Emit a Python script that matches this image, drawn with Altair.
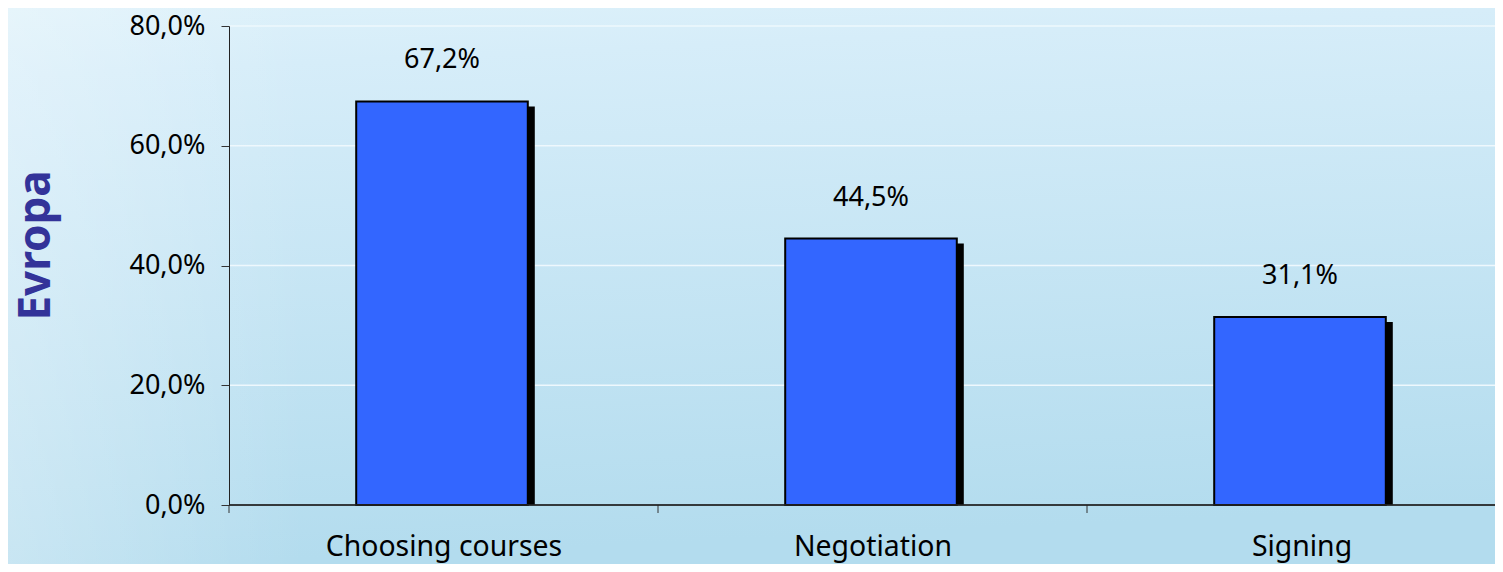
import altair as alt
import pandas as pd

categories = ["Choosing courses", "Negotiation", "Signing"]
values = [67.4, 44.5, 31.4]
labels = ["67,2%", "44,5%", "31,1%"]
grid_values = [20, 40, 60, 80]
FONT = "Noto Sans"

df = pd.DataFrame({"cat": categories, "v": values, "label": labels})
gdf = pd.DataFrame({"g": grid_values})

W, H = 1266, 479
PL, PT, PB = 221, 18, 59

x_scale = alt.Scale(domain=categories, range=[-1.5, 1285.5], paddingInner=0.6, paddingOuter=0.3)
y_scale = alt.Scale(domain=[0, 80], nice=False)
x_axis = alt.Axis(title=None, labelAngle=0, ticks=False, domain=False, grid=False,
                  labelFont=FONT, labelFontSize=28.4, labelColor="#000000",
                  labelPadding=28, labelLimit=400, labelOffset=2, zindex=1)
y_axis = alt.Axis(values=[0, 20, 40, 60, 80], grid=False, tickSize=8, tickColor="#333333",
                  domainColor="#222222", labelFont=FONT, labelFontSize=27,
                  labelColor="#000000", labelPadding=16,
                  labelExpr="replace(format(datum.value,'.1f'),'.',',')+'%'",
                  title="Evropa", titleFont=FONT, titleFontSize=44, titleFontWeight="bold",
                  titleColor="#333399", titleX=-180, titleY=219, titleBaseline="alphabetic",
                  titleAlign="center", zindex=1)
x_enc = alt.X("cat:N", scale=x_scale, sort=categories, axis=x_axis)
y_enc = alt.Y("v:Q", scale=y_scale, axis=y_axis)

bg = alt.Chart(pd.DataFrame({"a": [0]})).mark_rect(
    fill=alt.LinearGradient(gradient="linear", x1=0, y1=0, x2=0.12, y2=1,
                            stops=[alt.GradientStop(offset=0, color="#DDF1FA"),
                                   alt.GradientStop(offset=0.12, color="#D6EDF9"),
                                   alt.GradientStop(offset=1, color="#B3DCEE")])
).encode(x=alt.value(-PL), x2=alt.value(W), y=alt.value(-PT), y2=alt.value(H + PB))

glow = alt.Chart(pd.DataFrame({"a": [0]})).mark_rect(
    fill=alt.LinearGradient(gradient="linear", x1=0, y1=0, x2=1, y2=0,
                            stops=[alt.GradientStop(offset=0, color="rgba(255,255,255,0.28)"),
                                   alt.GradientStop(offset=0.2, color="rgba(255,255,255,0)"),
                                   alt.GradientStop(offset=1, color="rgba(255,255,255,0)")])
).encode(x=alt.value(-PL), x2=alt.value(W), y=alt.value(-PT), y2=alt.value(H + PB))

grid = alt.Chart(gdf).mark_rule(color="#EEF8FD", strokeWidth=1.5).encode(
    y=alt.Y("g:Q", scale=y_scale, axis=y_axis), x=alt.value(0), x2=alt.value(W))

shadow = alt.Chart(df).mark_bar(color="#000000", xOffset=7, x2Offset=7, yOffset=5).encode(
    x=x_enc, y=y_enc, y2=alt.datum(0))

bars = alt.Chart(df).mark_bar(color="#3366FF", stroke="#000000", strokeWidth=2).encode(
    x=x_enc, y=y_enc, y2=alt.datum(0))

text = alt.Chart(df).mark_text(font=FONT, fontSize=27, color="#000000", dy=-41, baseline="middle").encode(
    x=x_enc, y=y_enc, text="label:N")

ticks = alt.Chart(df).mark_rule(color="#333333", xOffset=-127.2).encode(
    x=alt.X("cat:N", scale=x_scale, sort=categories, bandPosition=0, axis=x_axis),
    y=alt.value(H), y2=alt.value(H + 8))

base = alt.Chart(df).mark_rule(color="#222222").encode(
    x=alt.value(0), x2=alt.value(W), y=alt.value(H))

chart = alt.layer(bg, glow, grid, shadow, bars, text, ticks, base).properties(
    width=W, height=H,
    padding={"left": PL, "top": PT, "right": 0, "bottom": PB},
    autosize=alt.AutoSizeParams(type="none"),
).configure_view(stroke=None)

chart.save("out.html", embed_options={"renderer": "svg", "actions": False})
